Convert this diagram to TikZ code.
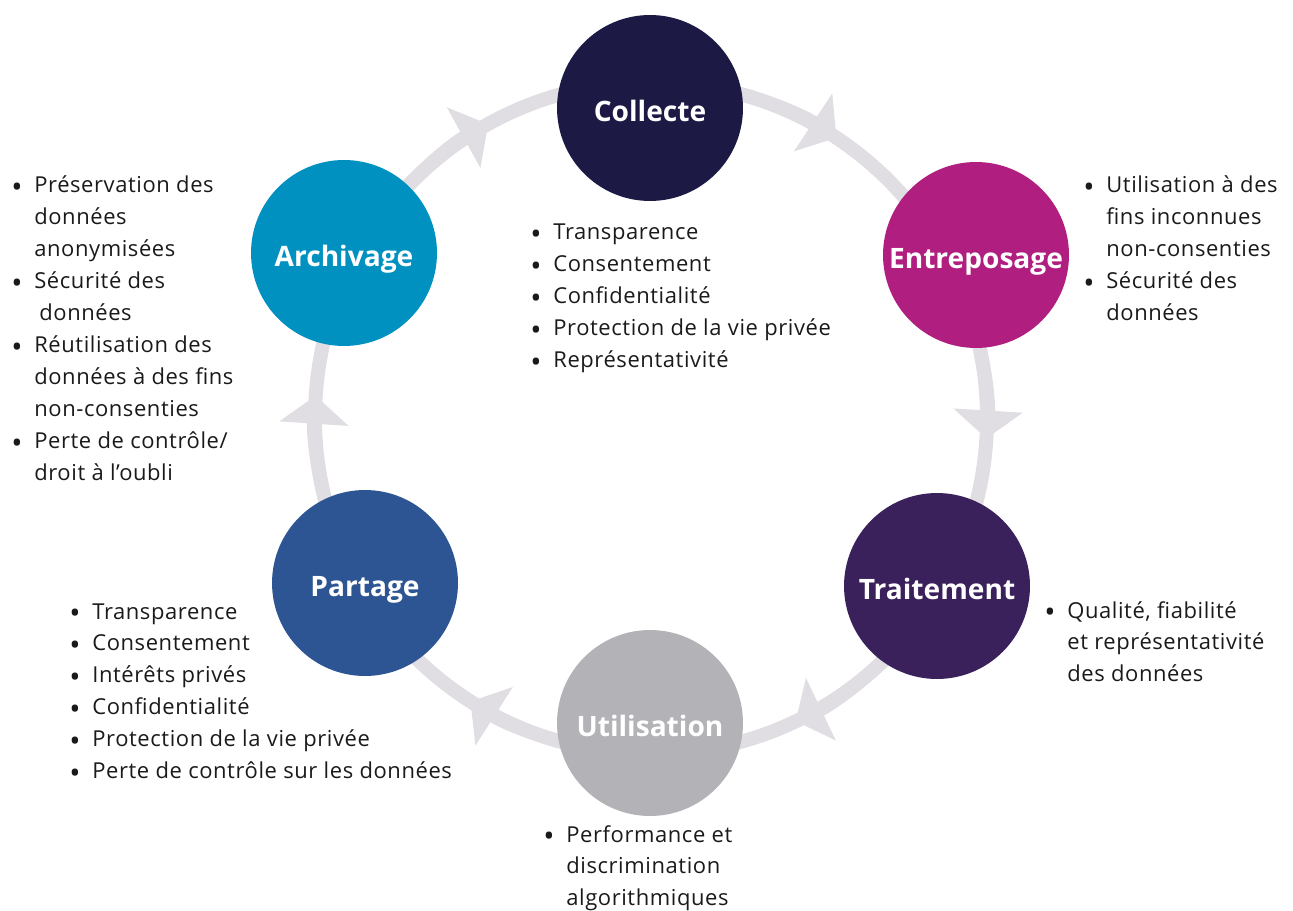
\documentclass[tikz,border=0pt]{standalone}
\usepackage{fontspec}
\setmainfont{Open Sans}
\newfontfamily\notesfont[LetterSpace=2.7]{Open Sans}
\usetikzlibrary{arrows.meta,positioning}

\definecolor{collc}{HTML}{1C1A45}
\definecolor{entrc}{HTML}{B01F7F}
\definecolor{traic}{HTML}{3A215B}
\definecolor{utilc}{HTML}{B3B2B7}
\definecolor{partc}{HTML}{2E5593}
\definecolor{archc}{HTML}{0091C0}
\definecolor{ringc}{HTML}{E0DDE3}
\definecolor{txtc}{HTML}{1A1A1A}

\tikzset{
	stage/.style={circle, minimum size=3.72cm, inner sep=0pt, text=white,
		text height=15pt, text depth=0pt,
		font=\fontsize{16}{19}\selectfont\bfseries},
	notes/.style={anchor=base west, inner sep=0pt, text=txtc,
		font=\notesfont\fontsize{12.5}{18.2}\selectfont},
	ring/.style={draw=ringc, line width=0.28cm},
	tip/.style={draw=ringc, line width=0.28cm, -{Triangle[width=1.36cm,length=0.56cm]}}
}

\newcommand{\bl}{\raisebox{-2.6pt}{\fontsize{17}{17}\selectfont\textbullet}}
\newcommand{\pts}[1]{\begin{tabular}[t]{@{}p{0.46cm}@{}l@{}}#1\end{tabular}}

\begin{document}
\begin{tikzpicture}[x=0.02cm,y=-0.02cm]
	\useasboundingbox (0,0) rectangle (1293,911);

	% ring and arrows
	\coordinate (ring) at (651,418);
	\draw[ring] (ring) circle[radius=336];
	\draw[tip] (ring) ++(-139:336) arc[start angle=-139, end angle=-119, radius=336];
	\draw[tip] (ring) ++(-76.5:336) arc[start angle=-76.5, end angle=-56.5, radius=336];
	\draw[tip] (ring) ++(-16.5:336) arc[start angle=-16.5, end angle=3.5, radius=336];
	\draw[tip] (ring) ++(44.5:336) arc[start angle=44.5, end angle=64.5, radius=336];
	\draw[tip] (ring) ++(102.5:336) arc[start angle=102.5, end angle=122.5, radius=336];
	\draw[tip] (ring) ++(163.8:336) arc[start angle=163.8, end angle=183.8, radius=336];

	% stages
	\node[stage, fill=collc] (coll) at (650,108) {Collecte};
	\node[stage, fill=entrc] (entr) at (976,255) {Entreposage};
	\node[stage, fill=traic] (trai) at (937,586) {Traitement};
	\node[stage, fill=utilc] (util) at (650,723) {Utilisation};
	\node[stage, fill=partc] (part) at (365,583) {Partage};
	\node[stage, fill=archc] (arch) at (344,253) {Archivage};

	% notes
	\node[notes] (collpts) at (530,240) {\pts{
		\bl & Transparence\\
		\bl & Consentement\\
		\bl & Confidentialité\\
		\bl & Protection de la vie privée\\
		\bl & Représentativité}};
	\node[notes] (entrpts) at (1083,193) {\pts{
		\bl & Utilisation à des\\
		& fins inconnues\\
		& non-consenties\\
		\bl & Sécurité des\\
		& données}};
	\node[notes] (traipts) at (1044,618) {\pts{
		\bl & Qualité, fiabilité\\
		& et représentativité\\
		& des données}};
	\node[notes] (utilpts) at (543,842) {\pts{
		\bl & Performance et\\
		& discrimination\\
		& algorithmiques}};
	\node[notes] (partpts) at (69,619) {\pts{
		\bl & Transparence\\
		\bl & Consentement\\
		\bl & Intérêts privés\\
		\bl & Confidentialité\\
		\bl & Protection de la vie privée\\
		\bl & Perte de contrôle sur les données}};
	\node[notes] (archpts) at (11,193) {\pts{
		\bl & Préservation des\\
		& données\\
		& anonymisées\\
		\bl & Sécurité des\\
		& \hspace{0.1cm}données\\
		\bl & Réutilisation des\\
		& données à des fins\\
		& non-consenties\\
		\bl & Perte de contrôle/\\
		& droit à l’oubli}};
\end{tikzpicture}
\end{document}
